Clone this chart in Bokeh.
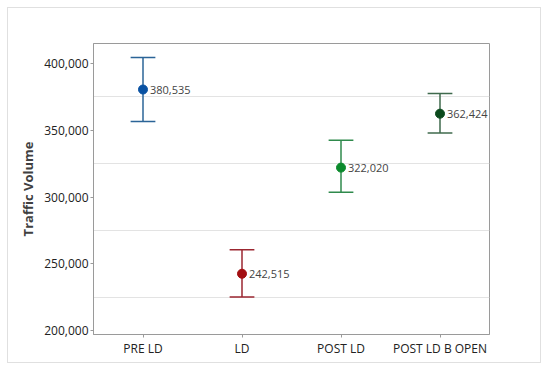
from bokeh.plotting import figure
from bokeh.models import ColumnDataSource, FixedTicker, NumeralTickFormatter, Range1d, FactorRange
from bokeh.transform import dodge
from bokeh.core.properties import value
from bokeh.embed import file_html
from bokeh.resources import INLINE

categories = ["PRE LD", "LD", "POST LD", "POST LD B OPEN"]
means = [380535, 242515, 322020, 362424]
upper = [404500, 260500, 342500, 377500]
lower = [356600, 225000, 303500, 348000]
labels = ["380,535", "242,515", "322,020", "362,424"]
line_colors = ["#2b6497", "#9b2630", "#2f8a4c", "#3f6a4d"]
dot_colors = ["#0a52a3", "#a30f12", "#0b8a2c", "#0b4a1c"]
y_ticks = [200000, 250000, 300000, 350000, 400000]
grid_ticks = [225000, 275000, 325000, 375000]

src = ColumnDataSource(dict(cat=categories, mean=means, up=upper, lo=lower,
                            lab=labels, lc=line_colors, dc=dot_colors))

p = figure(x_range=FactorRange(*categories), y_range=Range1d(197000, 415000),
           width=534, height=356, output_backend="svg", toolbar_location=None,
           min_border_left=85, min_border_right=53, min_border_top=35, min_border_bottom=30,
           styles={"border": "1px solid #e0e0e0", "margin": "7px 0 0 7px"})

p.outline_line_color = "#9a9a9a"
p.outline_line_width = 1
p.xgrid.grid_line_color = None
p.ygrid.ticker = FixedTicker(ticks=grid_ticks)
p.ygrid.grid_line_color = "#e3e3e3"
p.yaxis.ticker = FixedTicker(ticks=y_ticks)
p.yaxis.formatter = NumeralTickFormatter(format="0,0")
p.yaxis.minor_tick_line_color = None
p.yaxis.axis_label = "Traffic Volume"
p.yaxis.axis_label_text_font_style = "bold"
p.yaxis.axis_label_text_font_size = "13px"
p.yaxis.axis_label_text_color = "#404040"
p.yaxis.axis_label_text_font = "Open Sans"
p.yaxis.axis_label_standoff = 4
for ax in (p.xaxis, p.yaxis):
    ax.axis_line_color = "#9a9a9a"
    ax.major_tick_line_color = "#9a9a9a"
    ax.major_tick_out = 3
    ax.major_tick_in = 0
    ax.major_label_text_font = "Open Sans"
    ax.major_label_text_font_size = "12px"
    ax.major_label_text_color = "#222222"
    ax.major_label_standoff = 2

p.segment(x0="cat", y0="lo", x1="cat", y1="up", source=src, line_color="lc", line_width=1.5)
p.segment(x0=dodge("cat", -0.125, range=p.x_range), y0="up",
          x1=dodge("cat", 0.125, range=p.x_range), y1="up",
          source=src, line_color="lc", line_width=1.5)
p.segment(x0=dodge("cat", -0.125, range=p.x_range), y0="lo",
          x1=dodge("cat", 0.125, range=p.x_range), y1="lo",
          source=src, line_color="lc", line_width=1.5)
p.scatter(x="cat", y="mean", source=src, size=9, fill_color="dc", line_color="dc")
p.text(x="cat", y="mean", text="lab", source=src, x_offset=7,
       text_align="left", text_baseline="middle", text_font=value("Open Sans"),
       text_font_size="11px", text_color="#444444")

open("out.html", "w").write(file_html(p, INLINE))
